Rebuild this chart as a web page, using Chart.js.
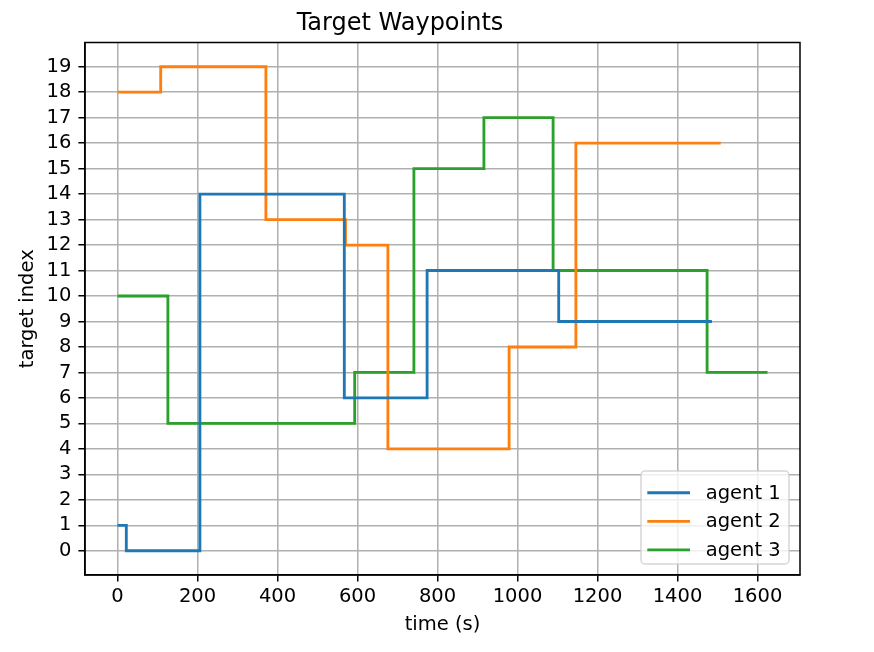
<!DOCTYPE html>
<html lang="en">
<head>
    <meta charset="UTF-8">
    <title>Target Waypoints</title>
    <script src="https://cdn.jsdelivr.net/npm/chart.js"></script>
    <style>
        body { margin: 0; background: #fff; }
        canvas { display: block; }
    </style>
</head>
<body>
    <canvas id="myChart" width="874" height="652"></canvas>

    <script>
        // step change points: time (s) and target index held from that time on
        const agent1Times = [0, 22, 206, 567, 774, 1103, 1486];
        const agent1Targets = [1, 0, 14, 6, 11, 9, 9];
        const agent2Times = [0, 108, 371, 570, 676, 979, 1146, 1508];
        const agent2Targets = [18, 19, 13, 12, 4, 8, 16, 16];
        const agent3Times = [0, 126, 593, 741, 916, 1089, 1474, 1625];
        const agent3Targets = [10, 5, 7, 15, 17, 11, 7, 7];

        const agentLabels = ['agent 1', 'agent 2', 'agent 3'];
        const agentColors = ['#1f77b4', '#ff7f0e', '#2ca02c'];
        const xTicks = [0, 200, 400, 600, 800, 1000, 1200, 1400, 1600];
        const yTicks = [0, 1, 2, 3, 4, 5, 6, 7, 8, 9, 10, 11, 12, 13, 14, 15, 16, 17, 18, 19];

        const toPoints = (times, targets) => times.map((t, i) => ({ x: t, y: targets[i] }));
        const series = [
            toPoints(agent1Times, agent1Targets),
            toPoints(agent2Times, agent2Targets),
            toPoints(agent3Times, agent3Targets)
        ];

        const FONT = 'DejaVu Sans';
        const FS = 19.5;

        // top/right spines like matplotlib
        const framePlugin = {
            id: 'frame',
            afterDatasetsDraw(chart) {
                const { ctx, chartArea: a } = chart;
                ctx.save();
                ctx.strokeStyle = '#000';
                ctx.lineWidth = 1.5;
                ctx.strokeRect(a.left, a.top, a.right - a.left, a.bottom - a.top);
                ctx.restore();
            }
        };

        // legend box in lower right of the axes
        const boxLegend = {
            id: 'boxLegend',
            afterDraw(chart) {
                const { ctx, chartArea: a } = chart;
                const w = 148, h = 93;
                const x = a.right - 11 - w, y = a.bottom - 11 - h;
                ctx.save();
                ctx.beginPath();
                ctx.roundRect(x, y, w, h, 4);
                ctx.fillStyle = 'rgba(255,255,255,0.8)';
                ctx.fill();
                ctx.strokeStyle = 'rgba(204,204,204,0.8)';
                ctx.lineWidth = 1.5;
                ctx.stroke();
                ctx.font = FS + 'px "' + FONT + '"';
                ctx.textBaseline = 'middle';
                ctx.fillStyle = '#000';
                agentLabels.forEach((label, i) => {
                    const ly = y + 21.7 + i * 28.6;
                    ctx.strokeStyle = agentColors[i];
                    ctx.lineWidth = 2.85;
                    ctx.beginPath();
                    ctx.moveTo(x + 6.3, ly);
                    ctx.lineTo(x + 49, ly);
                    ctx.stroke();
                    ctx.fillText(label, x + 64.7, ly + 1);
                });
                ctx.restore();
            }
        };

        const gridOpts = {
            color: '#b0b0b0',
            lineWidth: 1.5,
            tickColor: '#000',
            tickWidth: 1.5,
            tickLength: 6.6
        };

        const ctx = document.getElementById('myChart').getContext('2d');
        new Chart(ctx, {
            type: 'line',
            data: {
                datasets: series.map((pts, i) => ({
                    label: agentLabels[i],
                    data: pts,
                    borderColor: agentColors[i],
                    backgroundColor: agentColors[i],
                    borderWidth: 2.85,
                    pointRadius: 0,
                    stepped: true,
                    fill: false
                }))
            },
            options: {
                responsive: false,
                animation: false,
                layout: { padding: { left: 0, right: 74, top: 0, bottom: 0 } },
                plugins: {
                    legend: { display: false },
                    tooltip: { enabled: false },
                    title: {
                        display: true,
                        text: 'Target Waypoints',
                        color: '#000',
                        font: { family: FONT, size: 24, weight: 'normal', lineHeight: 1.2 },
                        padding: { top: 9.5, bottom: 4.2 }
                    }
                },
                scales: {
                    x: {
                        type: 'linear',
                        min: -81.25,
                        max: 1706.25,
                        afterBuildTicks: (axis) => { axis.ticks = xTicks.map(v => ({ value: v })); },
                        afterFit: (axis) => { axis.height = 77; },
                        ticks: {
                            color: '#000',
                            font: { family: FONT, size: FS },
                            padding: 4,
                            maxRotation: 0,
                            autoSkip: false,
                            callback: (v) => String(v)
                        },
                        grid: gridOpts,
                        border: { color: '#000', width: 1.5 },
                        title: {
                            display: true,
                            text: 'time (s)',
                            color: '#000',
                            font: { family: FONT, size: FS },
                            padding: { top: 0, bottom: 15 }
                        }
                    },
                    y: {
                        type: 'linear',
                        min: -0.95,
                        max: 19.95,
                        afterBuildTicks: (axis) => { axis.ticks = yTicks.map(v => ({ value: v })); },
                        afterFit: (axis) => { axis.width = 85; },
                        ticks: {
                            color: '#000',
                            font: { family: FONT, size: FS },
                            padding: 7,
                            autoSkip: false,
                            callback: (v) => String(v)
                        },
                        grid: gridOpts,
                        border: { color: '#000', width: 1.5 },
                        title: {
                            display: true,
                            text: 'target index',
                            color: '#000',
                            font: { family: FONT, size: FS },
                            padding: { top: 16, bottom: 0 }
                        }
                    }
                }
            },
            plugins: [framePlugin, boxLegend]
        });
    </script>
</body>
</html>
